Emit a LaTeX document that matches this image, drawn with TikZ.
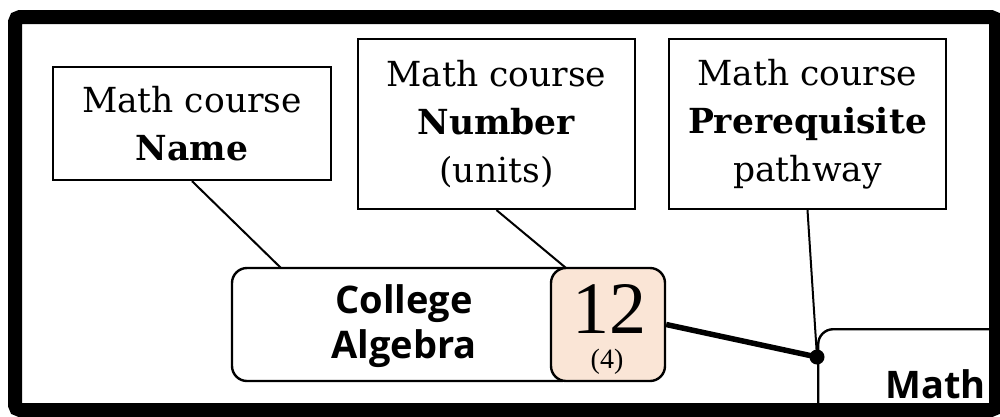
\documentclass[tikz,border=0pt]{standalone}
\usepackage{fontspec}
\newfontfamily\osans{Open Sans}
\newfontfamily\lserif{Liberation Serif}
\setmainfont{DejaVu Serif}
\definecolor{peach}{RGB}{250,229,214}
\begin{document}
\begin{tikzpicture}[x=1pt,y=-1pt,
  labelbox/.style={draw=black,line width=2.2pt,rectangle,inner sep=0pt,align=center,
    font=\fontsize{34.5}{48}\selectfont},
  coursebox/.style={draw=black,line width=2.4pt,rounded corners=15pt,inner sep=0pt,fill=white},
  thin/.style={line width=2pt},
  thick link/.style={line width=5.5pt},
  sanslabel/.style={font=\osans\bfseries\fontsize{38}{45}\selectfont,align=center,inner sep=0pt}]
\useasboundingbox (0,0) rectangle (1000,416);
\fill[white] (0,0) rectangle (1000,416);
\begin{scope}
\clip (22,24) rectangle (989,403);
% label boxes
\node[labelbox,minimum width=278pt,minimum height=113pt] (name) at (192,123.5) {Math course\\\textbf{Name}};
\node[labelbox,minimum width=277pt,minimum height=170pt] (number) at (496.5,124) {Math course\\\textbf{Number}\\(units)};
\node[labelbox,minimum width=277pt,minimum height=170pt] (prereq) at (807.5,124) {Math course\\\textbf{Prerequisite}\\pathway};
% math course box (partially visible)
\node[coursebox,minimum width=300pt,minimum height=200pt,anchor=north west] (math) at (817,328) {};
\node[sanslabel,anchor=base east] (mathtxt) at (986,398) {Math};
% college algebra
\node[coursebox,minimum width=344pt,minimum height=113pt] (college) at (404,324.5) {};
\node[sanslabel] (collegetxt) at (404,326) {College\\Algebra};
\node[coursebox,fill=peach,minimum width=114pt,minimum height=113pt] (units) at (608,324.5) {};
\node[anchor=base,inner sep=0pt,text depth=0pt,font=\lserif\fontsize{74}{74}\selectfont] (num) at (609,333) {12};
\node[anchor=base,inner sep=0pt,text height=15pt,font=\lserif\fontsize{28}{28}\selectfont] (unitnum) at (607,368) {(4)};
% connectors
\coordinate (nameend) at (281,268);
\coordinate (numend) at (566,268);
\draw[thin] (name.south) -- (nameend);
\draw[thin] (number.south) -- (numend);
\fill (817,357) circle (7.5pt) coordinate (dot);
\draw[thin] (prereq.south) -- (dot);
\draw[thick link] (units.east) -- (dot);
\end{scope}
% frame
\draw[line width=14pt,rounded corners=5pt] (15,17) rectangle (996,410);
\end{tikzpicture}
\end{document}
